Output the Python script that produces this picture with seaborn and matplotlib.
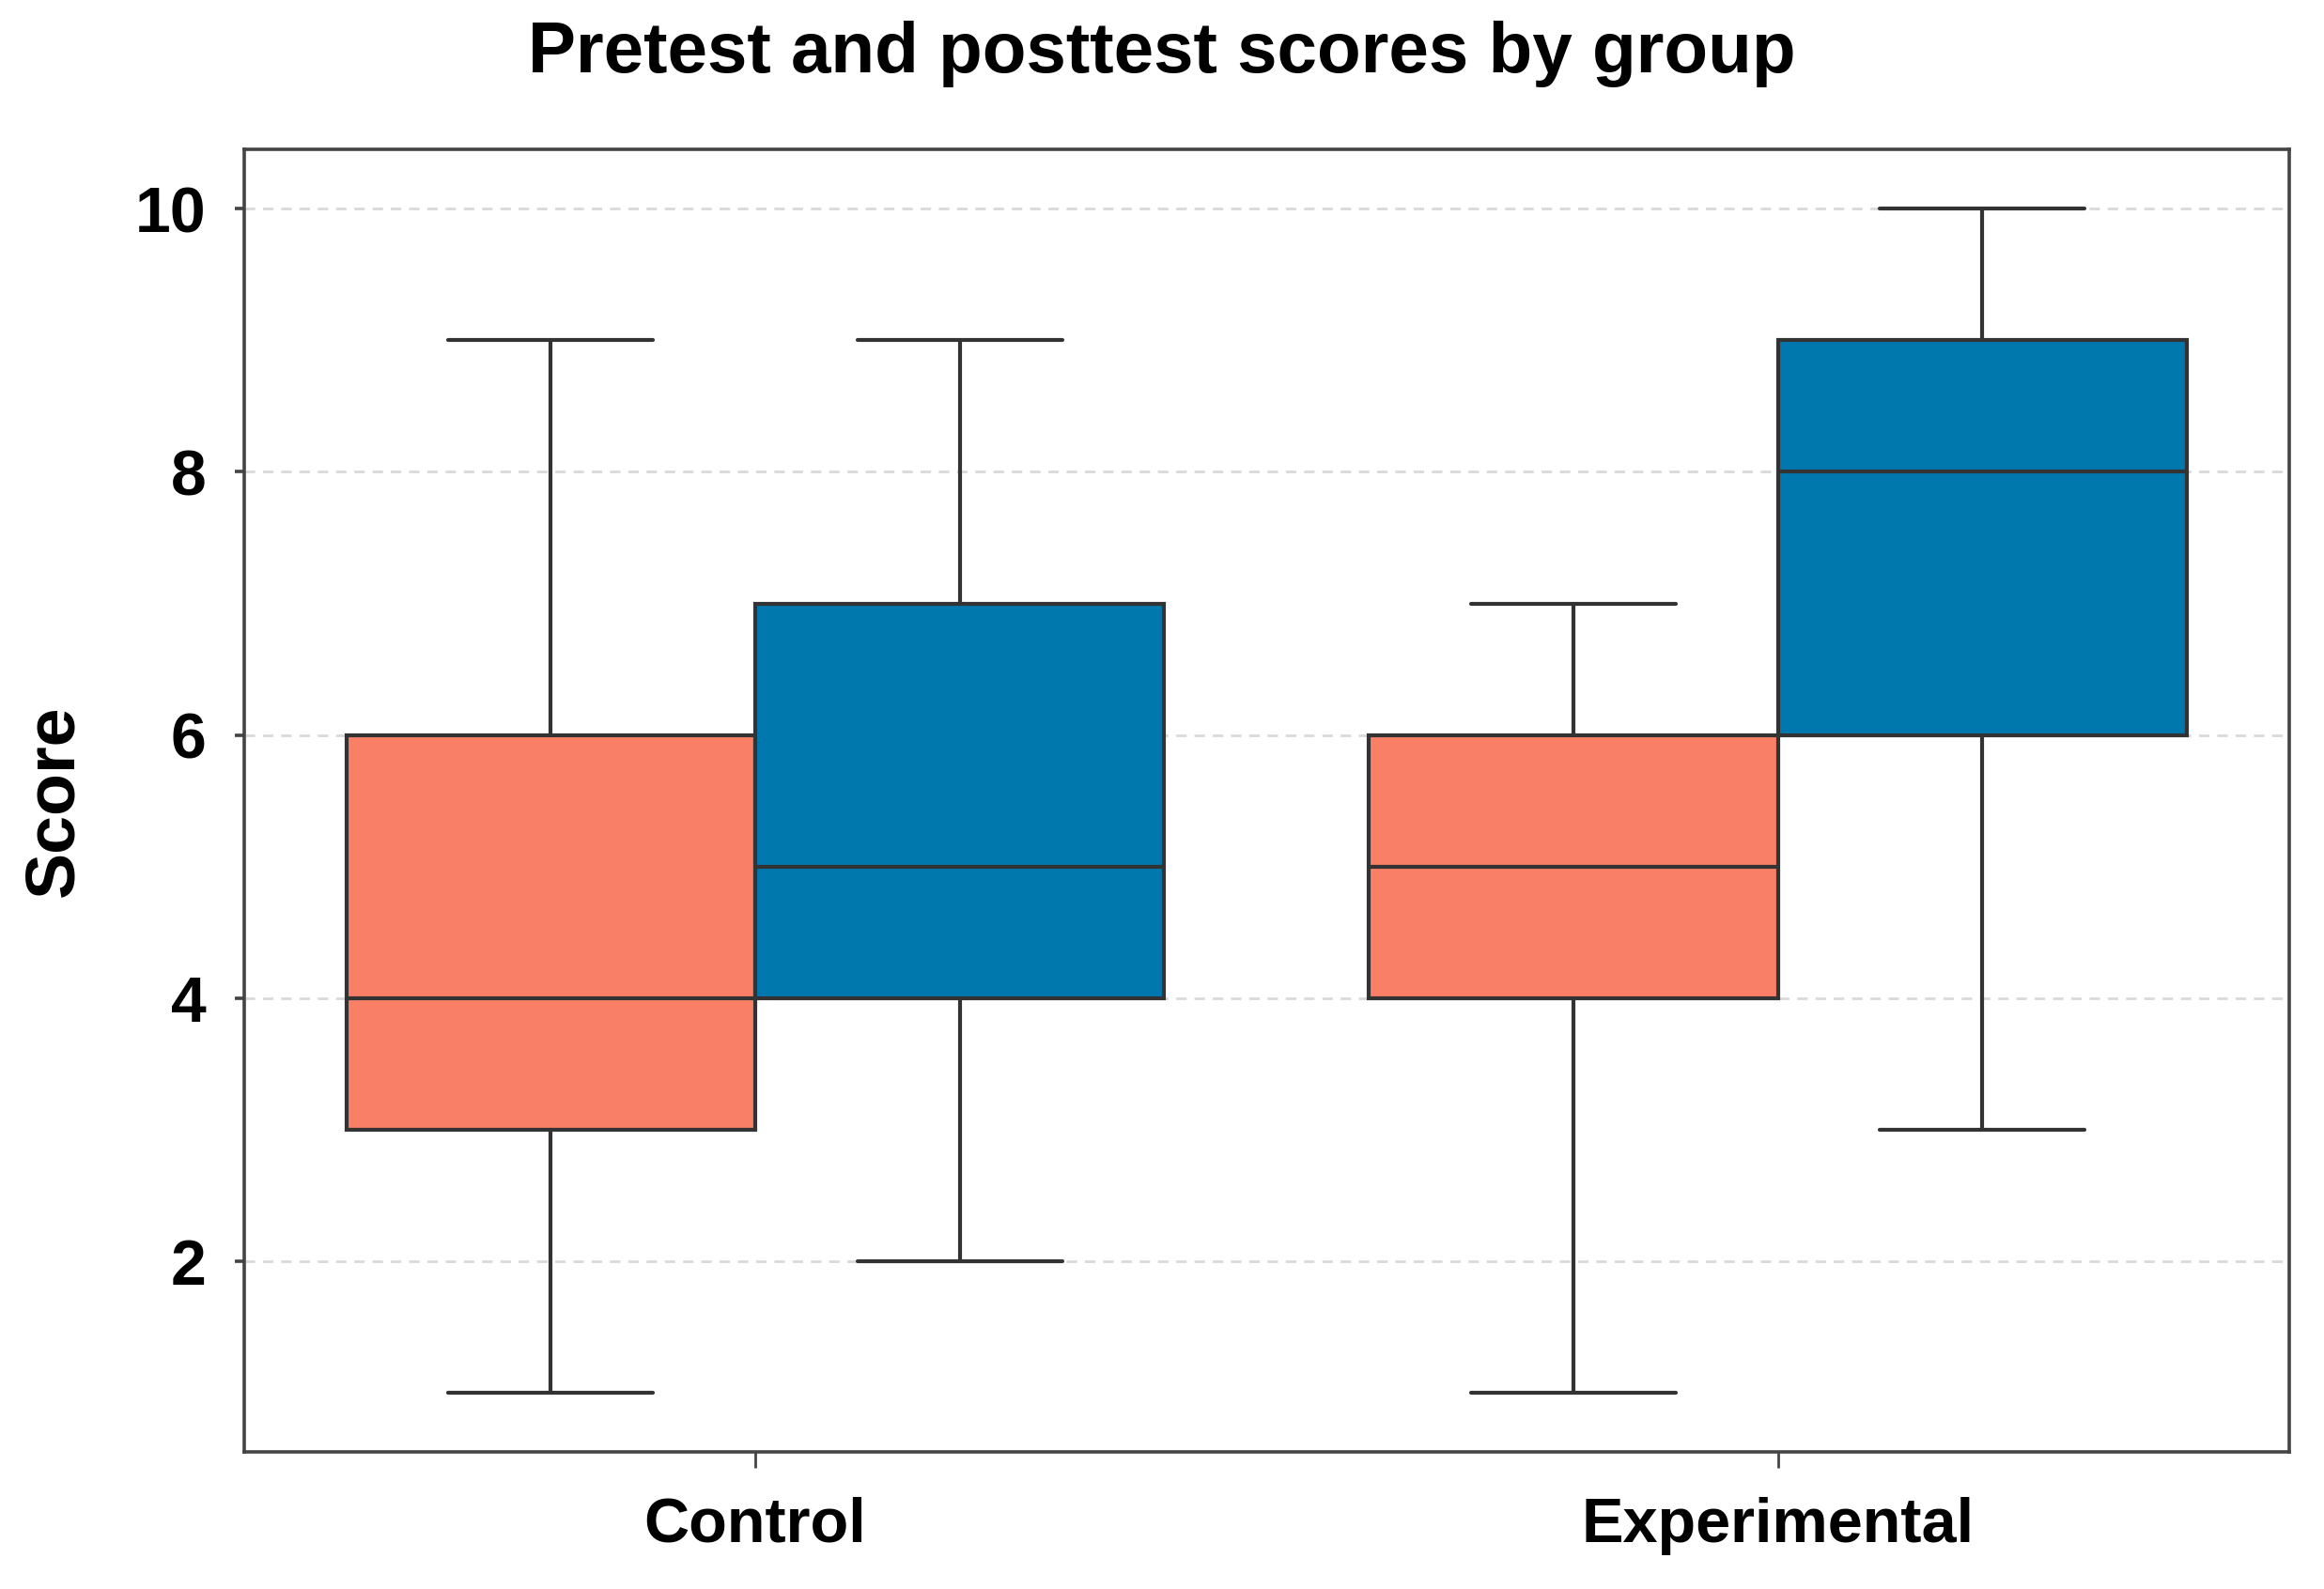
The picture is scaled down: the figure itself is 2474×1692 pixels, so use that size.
import pandas as pd
import matplotlib.pyplot as plt
import seaborn as sns

# ---- Data (five-number summaries) ----
groups = ["Control", "Experimental"]
tests = ["Pretest", "Posttest"]

control_pre = [1, 3, 4, 6, 9]
control_post = [2, 4, 5, 7, 9]
experimental_pre = [1, 4, 5, 6, 7]
experimental_post = [3, 6, 8, 9, 10]

palette = {"Pretest": "#FA7F67", "Posttest": "#0078AE"}

rows = []
for group, test, values in [
    ("Control", "Pretest", control_pre),
    ("Control", "Posttest", control_post),
    ("Experimental", "Pretest", experimental_pre),
    ("Experimental", "Posttest", experimental_post),
]:
    for v in values:
        rows.append({"Group": group, "Test": test, "Score": v})
df = pd.DataFrame(rows)

# ---- Plot ----
sns.set_style("white")
plt.rcParams["font.family"] = ["Liberation Sans", "DejaVu Sans"]
plt.rcParams["text.color"] = "black"

fig, ax = plt.subplots(figsize=(24.74, 16.92), dpi=100)
fig.subplots_adjust(left=0.105, right=0.985, top=0.906, bottom=0.086)

edge = "#333333"
line_kw = dict(color=edge, linewidth=3)
sns.boxplot(
    data=df, x="Group", y="Score", hue="Test",
    order=groups, hue_order=tests, palette=palette,
    width=0.8, whis=1.5, legend=False, saturation=1, ax=ax,
    boxprops=dict(edgecolor=edge, linewidth=3),
    whiskerprops=line_kw, capprops=line_kw, medianprops=line_kw,
    zorder=3,
)

ax.set_xlim(-0.5, 1.5)
ax.set_yticks([2, 4, 6, 8, 10])
ax.yaxis.grid(True, linestyle=(0, (4, 3)), color="#d9d9d9", linewidth=2)
ax.set_axisbelow(True)

for spine in ax.spines.values():
    spine.set_visible(True)
    spine.set_color("#444444")
    spine.set_linewidth(2.6)

ax.tick_params(axis="y", left=True, length=7, width=2.6, color="#444444",
               pad=22, labelsize=49, labelcolor="black")
ax.tick_params(axis="x", bottom=True, length=12, width=2, color="#444444",
               pad=22, labelsize=48, labelcolor="black")
for lab in ax.get_xticklabels() + ax.get_yticklabels():
    lab.set_fontweight("bold")

ax.set_xlabel("")
ax.set_ylabel("Score", fontsize=53, fontweight="bold", color="black",
              labelpad=36)
fig.suptitle("Pretest and posttest scores by group", fontsize=55,
             fontweight="bold", color="black", y=0.987)

plt.savefig("out.png", dpi=100, facecolor="white")
plt.close()
